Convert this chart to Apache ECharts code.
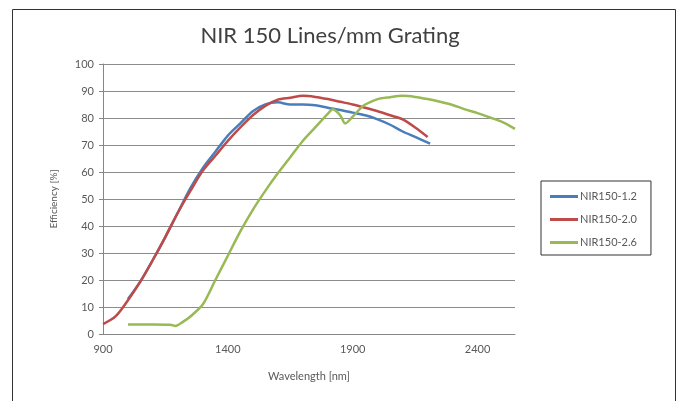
<!DOCTYPE html>
<html>
<head>
<meta charset="utf-8">
<script src="https://cdn.jsdelivr.net/npm/echarts@6/dist/echarts.min.js"></script>
<style>html,body{margin:0;padding:0;background:#fff}#c{width:681px;height:401px}</style>
</head>
<body>
<div id="c"></div>
<script>
var seriesNames = ['NIR150-1.2', 'NIR150-2.0', 'NIR150-2.6'];
var xTicks = [900, 1400, 1900, 2400];
var yTicks = [0, 10, 20, 30, 40, 50, 60, 70, 80, 90, 100];

var nir12 = [
  [1000,13],[1050,19.5],[1100,27.5],[1150,36],[1200,45],[1250,54],[1300,61.5],[1350,67.5],
  [1400,73.5],[1450,78],[1500,82.5],[1550,85],[1600,85.8],[1650,85],[1700,85],[1750,84.7],
  [1800,83.8],[1850,83],[1900,82],[1950,81],[2000,79.5],[2050,77.5],[2100,75],[2150,73],[2210,70.5]
];
var nir20 = [
  [900,3.7],[950,6.5],[1000,12.5],[1050,19.5],[1100,27.5],[1150,36],[1200,45],[1250,53],
  [1300,60.5],[1350,66],[1400,71.5],[1450,76.5],[1500,81],[1550,84.5],[1600,86.8],[1650,87.5],
  [1700,88.2],[1750,87.8],[1800,87],[1850,86],[1900,85],[1950,83.8],[2000,82.5],[2050,81],
  [2100,79.5],[2150,76.5],[2200,73]
];
var nir26 = [
  [1000,3.5],[1100,3.5],[1170,3.4],[1190,3],[1220,4.5],[1250,6.5],[1300,11],[1350,20],
  [1400,29],[1450,38],[1500,46],[1550,53],[1600,59.5],[1650,65.5],[1700,71.5],[1750,76.5],
  [1800,81.5],[1820,83.2],[1850,81],[1870,78],[1900,80.5],[1930,83.5],[1950,85],[2000,87],
  [2050,87.7],[2100,88.2],[2150,87.8],[2200,87],[2250,86],[2300,84.8],[2350,83.2],[2400,81.8],
  [2450,80.2],[2500,78.5],[2550,76]
];
var seriesData = [nir12, nir20, nir26];
var colors = ['#4a7ebb', '#be4b48', '#98b954'];

var chart = echarts.init(document.getElementById('c'), null, {renderer: 'canvas'});
var option = {
  animation: false,
  backgroundColor: '#ffffff',
  textStyle: {fontFamily: 'Lato, "Noto Sans", sans-serif'},
  title: {
    text: 'NIR 150 Lines/mm Grating',
    left: 325, top: 20, textAlign: 'center',
    textStyle: {fontSize: 22, fontWeight: 'normal', color: '#404040', fontFamily: 'Lato, "Noto Sans", sans-serif'}
  },
  graphic: [{
    type: 'rect', silent: true,
    shape: {x: 12.5, y: 9.5, width: 663, height: 420},
    style: {fill: 'none', stroke: '#333333', lineWidth: 1}
  }],
  legend: {
    orient: 'vertical',
    left: 541, top: 181,
    padding: [10, 14, 7, 9],
    itemWidth: 28, itemHeight: 3, itemGap: 12,
    icon: 'rect',
    borderColor: '#333333', borderWidth: 1,
    textStyle: {fontSize: 11, color: '#595959', padding: [0, 0, 0, -3]},
    data: seriesNames
  },
  grid: {left: 103, right: 166, top: 64, bottom: 67},
  xAxis: {
    type: 'value', min: 900, max: 2550, interval: 500,
    name: 'Wavelength [nm]', nameLocation: 'middle', nameGap: 37,
    nameTextStyle: {fontSize: 11, color: '#595959'},
    axisLine: {show: true, lineStyle: {color: '#868686', width: 1}},
    axisTick: {show: false},
    axisLabel: {fontSize: 11, color: '#595959', margin: 10, showMaxLabel: false,
      formatter: function (v) { return xTicks.indexOf(v) >= 0 ? String(v) : ''; }},
    splitLine: {show: false}
  },
  yAxis: {
    type: 'value', min: 0, max: 100, interval: 10,
    name: 'Efficiency [%]', nameLocation: 'middle', nameGap: 44, nameRotate: 90,
    nameTextStyle: {fontSize: 10, color: '#595959'},
    axisLine: {show: true, lineStyle: {color: '#868686', width: 1}},
    axisTick: {show: true, length: 4, lineStyle: {color: '#868686'}},
    axisLabel: {fontSize: 11, color: '#595959', margin: 9,
      formatter: function (v) { return yTicks.indexOf(v) >= 0 ? String(v) : ''; }},
    splitLine: {show: true, lineStyle: {color: '#8c8c8c', width: 1}}
  },
  series: seriesNames.map(function (n, i) {
    return {
      name: n, type: 'line', data: seriesData[i],
      showSymbol: false, symbol: 'none', smooth: 0.3,
      color: colors[i],
      lineStyle: {color: colors[i], width: 2.5},
      clip: true
    };
  })
};
chart.setOption(option);
</script>
</body>
</html>
